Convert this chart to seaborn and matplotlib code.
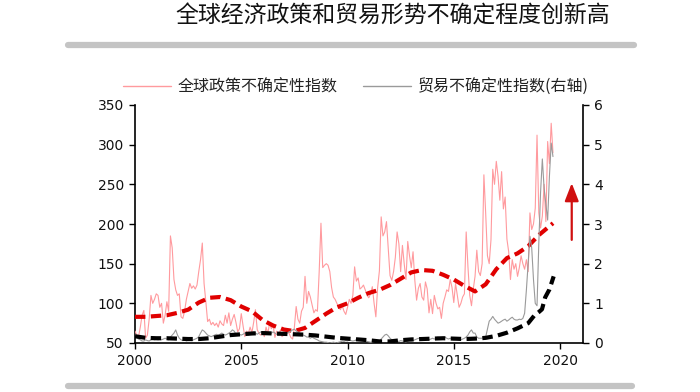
import numpy as np
import pandas as pd
import matplotlib
matplotlib.use("Agg")
import matplotlib.pyplot as plt
from matplotlib.lines import Line2D
import seaborn as sns

# ---------------- data ----------------
title = "全球经济政策和贸易形势不确定程度创新高"
label_epu = "全球政策不确定性指数"
label_tpu = "贸易不确定性指数(右轴)"

# Global economic policy uncertainty index, monthly Jan 2000 - Sep 2019 (left axis)
epu_2000 = [65, 60, 58, 70, 85, 91, 56, 60, 80, 110, 100, 105]
epu_2001 = [112, 110, 95, 100, 75, 85, 102, 90, 185, 170, 130, 117]
epu_2002 = [110, 112, 83, 81, 90, 105, 115, 125, 119, 122, 118, 123]
epu_2003 = [140, 155, 176, 125, 102, 77, 80, 73, 76, 72, 75, 70]
epu_2004 = [78, 74, 72, 85, 75, 88, 72, 80, 86, 76, 64, 68]
epu_2005 = [87, 72, 58, 65, 62, 70, 63, 76, 92, 67, 62, 60]
epu_2006 = [64, 58, 70, 62, 75, 68, 72, 57, 65, 60, 66, 58]
epu_2007 = [60, 62, 65, 62, 57, 55, 70, 96, 80, 75, 90, 95]
epu_2008 = [134, 100, 115, 108, 98, 88, 92, 90, 140, 201, 145, 148]
epu_2009 = [150, 148, 140, 120, 108, 105, 100, 95, 92, 97, 90, 86]
epu_2010 = [95, 105, 100, 110, 146, 128, 132, 118, 120, 123, 117, 110]
epu_2011 = [107, 112, 121, 100, 83, 120, 141, 209, 185, 190, 203, 170]
epu_2012 = [135, 129, 140, 158, 190, 175, 140, 173, 150, 130, 178, 160]
epu_2013 = [145, 165, 129, 104, 119, 125, 108, 104, 127, 118, 88, 105]
epu_2014 = [87, 110, 100, 93, 95, 81, 100, 108, 117, 115, 130, 120]
epu_2015 = [101, 125, 110, 95, 100, 108, 112, 190, 146, 110, 97, 118]
epu_2016 = [134, 167, 140, 135, 150, 262, 214, 160, 150, 180, 269, 250]
epu_2017 = [279, 260, 230, 266, 219, 234, 181, 165, 130, 155, 143, 150]
epu_2018 = [134, 145, 160, 150, 143, 155, 140, 214, 193, 200, 220, 312]
epu_2019 = [214, 195, 210, 250, 203, 304, 276, 327, 290]

# Trade policy uncertainty index, monthly Jan 2000 - Sep 2019 (right axis)
tpu_2000 = [0.22, 0.15, 0.10, 0.08, 0.05, 0.05, 0.08, 0.06, 0.05, 0.08, 0.10, 0.08]
tpu_2001 = [0.10, 0.08, 0.10, 0.08, 0.10, 0.12, 0.10, 0.08, 0.15, 0.20, 0.25, 0.33]
tpu_2002 = [0.20, 0.12, 0.08, 0.06, 0.08, 0.05, 0.07, 0.08, 0.06, 0.08, 0.10, 0.12]
tpu_2003 = [0.16, 0.25, 0.33, 0.30, 0.25, 0.20, 0.18, 0.16, 0.18, 0.20, 0.22, 0.20]
tpu_2004 = [0.22, 0.25, 0.22, 0.20, 0.22, 0.25, 0.28, 0.33, 0.30, 0.22, 0.20, 0.22]
tpu_2005 = [0.20, 0.22, 0.25, 0.23, 0.20, 0.22, 0.25, 0.28, 0.25, 0.22, 0.25, 0.28]
tpu_2006 = [0.25, 0.28, 0.30, 0.25, 0.22, 0.25, 0.28, 0.25, 0.22, 0.20, 0.22, 0.25]
tpu_2007 = [0.22, 0.20, 0.25, 0.28, 0.30, 0.33, 0.35, 0.30, 0.28, 0.25, 0.22, 0.20]
tpu_2008 = [0.18, 0.15, 0.15, 0.12, 0.15, 0.12, 0.10, 0.08, 0.05, 0.04, 0.03, 0.02]
tpu_2009 = [0.02, 0.01, 0.00, 0.01, 0.02, 0.01, 0.00, 0.02, 0.03, 0.05, 0.04, 0.06]
tpu_2010 = [0.05, 0.08, 0.06, 0.05, 0.06, 0.08, 0.10, 0.08, 0.06, 0.08, 0.05, 0.04]
tpu_2011 = [0.03, 0.02, 0.01, 0.00, 0.02, 0.03, 0.05, 0.10, 0.15, 0.20, 0.22, 0.18]
tpu_2012 = [0.12, 0.08, 0.05, 0.03, 0.05, 0.04, 0.06, 0.05, 0.04, 0.03, 0.05, 0.06]
tpu_2013 = [0.05, 0.06, 0.08, 0.10, 0.12, 0.10, 0.08, 0.10, 0.12, 0.10, 0.08, 0.10]
tpu_2014 = [0.12, 0.10, 0.12, 0.15, 0.12, 0.10, 0.12, 0.15, 0.12, 0.10, 0.12, 0.10]
tpu_2015 = [0.08, 0.10, 0.12, 0.10, 0.08, 0.10, 0.12, 0.15, 0.20, 0.28, 0.33, 0.25]
tpu_2016 = [0.25, 0.15, 0.12, 0.12, 0.12, 0.15, 0.15, 0.35, 0.55, 0.60, 0.67, 0.60]
tpu_2017 = [0.55, 0.50, 0.52, 0.55, 0.58, 0.60, 0.55, 0.58, 0.62, 0.65, 0.60, 0.58]
tpu_2018 = [0.58, 0.60, 0.59, 0.62, 0.75, 1.34, 2.00, 2.69, 2.40, 1.60, 1.00, 0.94]
tpu_2019 = [2.50, 3.80, 4.64, 3.90, 3.50, 3.10, 4.20, 5.04, 4.70]

# Smoothed trend of the EPU index (left axis), read at anchor years
epu_trend_year = [2000.0, 2000.5, 2001.0, 2001.5, 2002.0, 2002.5, 2003.0, 2003.5,
                  2004.0, 2004.5, 2005.0, 2005.5, 2006.0, 2006.5, 2007.0, 2007.5,
                  2008.0, 2008.5, 2009.0, 2009.5, 2010.0, 2010.5, 2011.0, 2011.5,
                  2012.0, 2012.5, 2013.0, 2013.5, 2014.0, 2014.5, 2015.0, 2015.5,
                  2016.0, 2016.5, 2017.0, 2017.5, 2018.0, 2018.5, 2019.0, 2019.67]
epu_trend = [83, 83, 84, 85, 88, 92, 101, 107, 108, 104, 96, 90, 79, 72, 67, 65,
             69, 78, 87, 95, 100, 107, 113, 117, 123, 131, 139, 142, 141, 136, 130, 122,
             115, 124, 143, 157, 163, 172, 186, 201]

# Smoothed trend of the trade uncertainty index (right axis)
tpu_trend_year = [2000.0, 2000.5, 2001.0, 2001.5, 2002.0, 2002.5, 2003.0, 2003.5,
                  2004.0, 2004.5, 2005.0, 2005.5, 2006.0, 2006.5, 2007.0, 2007.5,
                  2008.0, 2008.5, 2009.0, 2009.5, 2010.0, 2010.5, 2011.0, 2011.5,
                  2012.0, 2012.5, 2013.0, 2013.5, 2014.0, 2014.5, 2015.0, 2015.5,
                  2016.0, 2016.5, 2017.0, 2017.5, 2018.0, 2018.5, 2018.8, 2019.0,
                  2019.15, 2019.3, 2019.5, 2019.7]
tpu_trend = [0.17, 0.13, 0.12, 0.12, 0.11, 0.10, 0.10, 0.12, 0.16, 0.20, 0.22, 0.24,
             0.25, 0.24, 0.23, 0.22, 0.21, 0.19, 0.16, 0.13, 0.11, 0.09, 0.07, 0.04,
             0.04, 0.07, 0.09, 0.10, 0.11, 0.12, 0.11, 0.10, 0.11, 0.13, 0.18, 0.26,
             0.37, 0.50, 0.70, 0.78, 0.85, 1.15, 1.35, 1.68]

x_ticks = [2000, 2005, 2010, 2015, 2020]
left_ticks = [50, 100, 150, 200, 250, 300, 350]
right_ticks = [0, 1, 2, 3, 4, 5, 6]

# ---------------- frames ----------------
epu_all = (epu_2000 + epu_2001 + epu_2002 + epu_2003 + epu_2004 + epu_2005 + epu_2006 +
           epu_2007 + epu_2008 + epu_2009 + epu_2010 + epu_2011 + epu_2012 + epu_2013 +
           epu_2014 + epu_2015 + epu_2016 + epu_2017 + epu_2018 + epu_2019)
tpu_all = (tpu_2000 + tpu_2001 + tpu_2002 + tpu_2003 + tpu_2004 + tpu_2005 + tpu_2006 +
           tpu_2007 + tpu_2008 + tpu_2009 + tpu_2010 + tpu_2011 + tpu_2012 + tpu_2013 +
           tpu_2014 + tpu_2015 + tpu_2016 + tpu_2017 + tpu_2018 + tpu_2019)
months = pd.date_range("2000-01-01", periods=len(epu_all), freq="MS")
dec_year = months.year + (months.month - 1) / 12.0
df = pd.DataFrame({"year": dec_year, "epu": epu_all, "tpu": tpu_all})
df_et = pd.DataFrame({"year": epu_trend_year, "v": epu_trend})
df_tt = pd.DataFrame({"year": tpu_trend_year, "v": tpu_trend})

# ---------------- style ----------------
sns.set_theme(style="white")
plt.rcParams["font.family"] = ["Noto Sans CJK SC", "DejaVu Sans"]
tick_font = ["DejaVu Sans"]

fig = plt.figure(figsize=(7.0, 3.92), dpi=100)
ax = fig.add_axes([135 / 700, 1 - 343 / 392, (583 - 135) / 700, (343 - 105) / 392])
ax2 = ax.twinx()

pink = "#ff9a9e"
gray = "#9a9a9a"
red = "#e00000"

sns.lineplot(data=df, x="year", y="epu", ax=ax, color=pink, lw=0.8, zorder=3)
sns.lineplot(data=df_et, x="year", y="v", ax=ax, color=red, lw=3.0, zorder=5)
ax.lines[-1].set_dashes([2.5, 1.3])
sns.lineplot(data=df, x="year", y="tpu", ax=ax2, color=gray, lw=0.8, zorder=3)
sns.lineplot(data=df_tt, x="year", y="v", ax=ax2, color="black", lw=3.0, zorder=5)
ax2.lines[-1].set_dashes([2.5, 1.3])

ax.set_xlim(2000, 2021.08)
ax.set_ylim(50, 350)
ax2.set_ylim(0, 6)
ax.set_xticks(x_ticks)
ax.set_yticks(left_ticks)
ax2.set_yticks(right_ticks)
ax.set_xlabel("")
ax.set_ylabel("")
ax2.set_xlabel("")
ax2.set_ylabel("")

for a in (ax, ax2):
    a.grid(False)
    a.patch.set_visible(False)
    for s in a.spines.values():
        s.set_visible(False)
ax.spines["left"].set_visible(True)
ax.spines["bottom"].set_visible(True)
ax2.spines["right"].set_visible(True)
for s in (ax.spines["left"], ax.spines["bottom"], ax2.spines["right"]):
    s.set_color("black")
    s.set_linewidth(1.2)

ax.tick_params(axis="both", direction="out", length=4, width=1, color="black",
               labelsize=10, pad=4, bottom=True, left=True)
ax2.tick_params(axis="y", direction="out", length=4, width=1, color="black",
                labelsize=10, pad=4, right=True)
for lab in ax.get_xticklabels() + ax.get_yticklabels() + ax2.get_yticklabels():
    lab.set_family(tick_font)
    lab.set_color("#111111")

# red arrow
ax2.annotate("", xy=(2020.55, 4.1), xytext=(2020.55, 2.53),
             arrowprops=dict(arrowstyle="-|>,head_width=0.35,head_length=0.9",
                             color="#d01010", lw=1.6), zorder=6)

# title and bars
fig.text(393 / 700, 1 - 16 / 392, title, ha="center", va="center", fontsize=16.5,
         color="#111111")
fig.add_artist(Line2D([68 / 700, 634 / 700], [1 - 45 / 392] * 2, color="#c4c4c4", lw=4.5))
fig.add_artist(Line2D([68 / 700, 632 / 700], [1 - 386 / 392] * 2, color="#c4c4c4", lw=4.5))

# legend
handles = [Line2D([], [], color=pink, lw=1.0), Line2D([], [], color=gray, lw=1.0)]
leg = fig.legend(handles, [label_epu, label_tpu], loc="center",
                 bbox_to_anchor=(356 / 700, 1 - 87 / 392), ncol=2, frameon=False,
                 fontsize=11.5, handlelength=3.0, handletextpad=0.4, columnspacing=1.6)
for t in leg.get_texts():
    t.set_color("#222222")

fig.savefig("out.png", dpi=100)
